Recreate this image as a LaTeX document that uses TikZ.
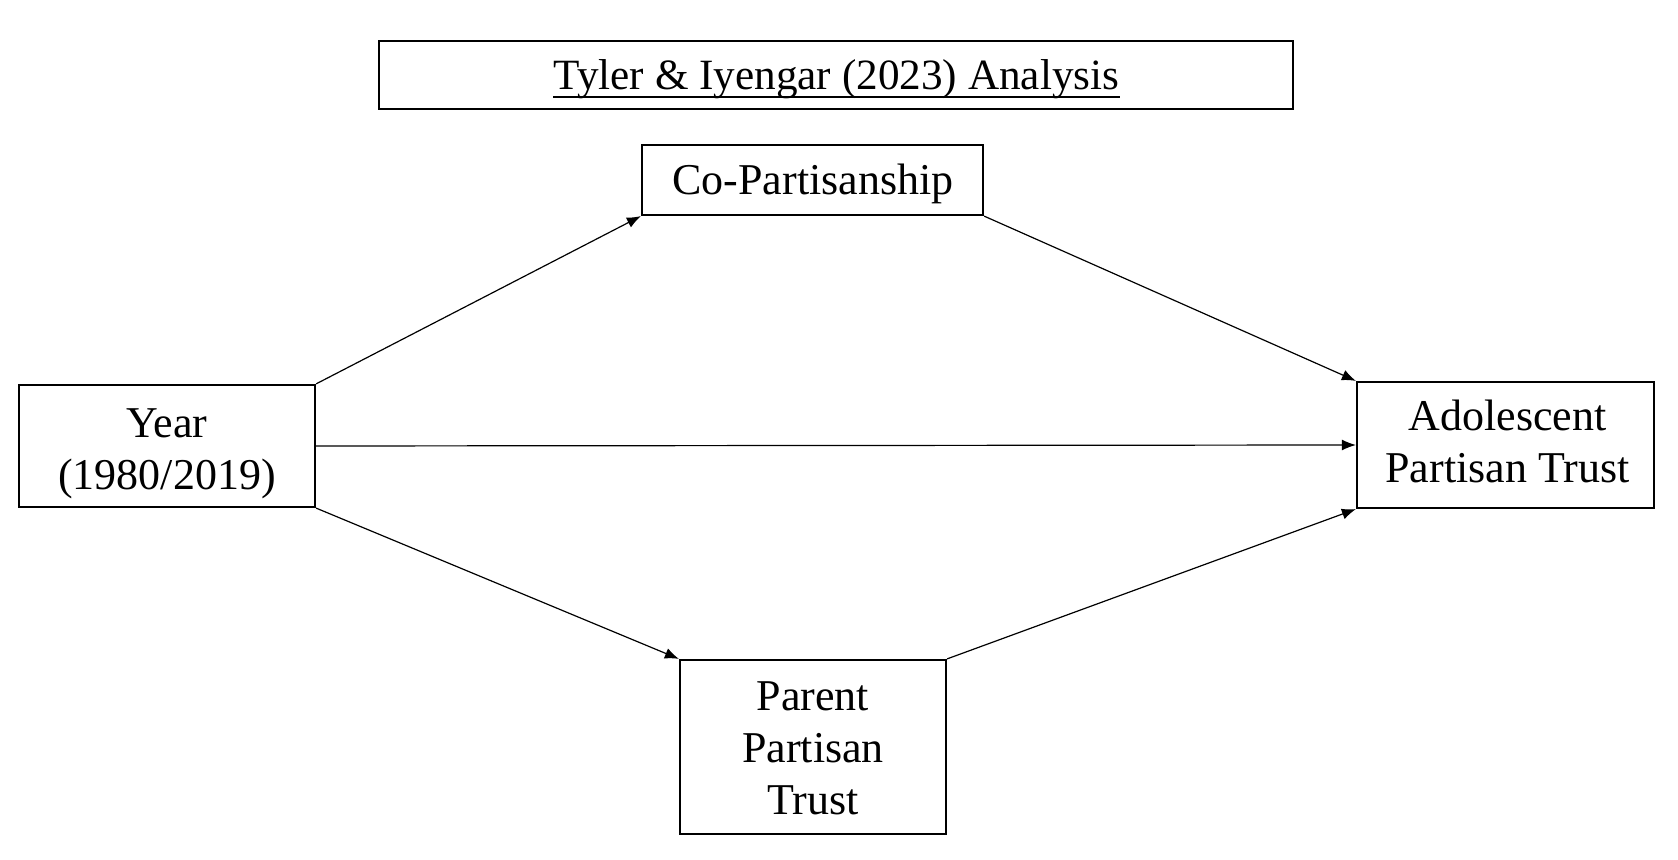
\documentclass[tikz,border=0pt]{standalone}
\usepackage{fontspec}
\setmainfont{Liberation Serif}
\usetikzlibrary{arrows.meta}
\begin{document}
\begin{tikzpicture}[x=0.5pt,y=-0.5pt,
  box/.style={draw=black,line width=1.1pt,inner sep=0pt},
  txt/.style={inner sep=0pt,anchor=base,align=center,
    font=\fontsize{22}{26}\selectfont},
  link/.style={line width=0.6pt,-{Latex[length=7pt,width=5.5pt]}}]
\useasboundingbox (0,0) rectangle (1678,860);
% boxes
\node[box,minimum width=457pt,minimum height=34pt] (title) at (836,75) {};
\node[box,minimum width=170.5pt,minimum height=35pt] (co) at (812.5,180) {};
\node[box,minimum width=148pt,minimum height=61pt] (year) at (167,446) {};
\node[box,minimum width=148.5pt,minimum height=63pt] (adol) at (1505.5,445) {};
\node[box,minimum width=133pt,minimum height=87pt] (par) at (813,747) {};
% texts (anchor base = baseline of last line)
\node[txt,font=\fontsize{21.6}{26}\selectfont] (ttl) at (836.5,90) {Tyler \& Iyengar (2023) Analysis};
\draw[line width=1pt] ([yshift=-3.35pt]ttl.base west) -- ([yshift=-3.35pt]ttl.base east);
\node[txt] (cotxt) at (813,195) {Co-Partisanship};
\node[txt] (yeartxt) at (167,489.3) {Year\\(1980/2019)};
\node[txt] (adoltxt) at (1507.5,482.7) {Adolescent\\Partisan Trust};
\node[txt] (partxt) at (813,815) {Parent\\Partisan\\Trust};
% connectors
\draw[link] (year.north east) -- (co.south west);
\draw[link] (co.south east) -- (adol.north west);
\draw[link] (year.east) -- (adol.west);
\draw[link] (year.south east) -- (par.north west);
\draw[link] (par.north east) -- (adol.south west);
\end{tikzpicture}
\end{document}
